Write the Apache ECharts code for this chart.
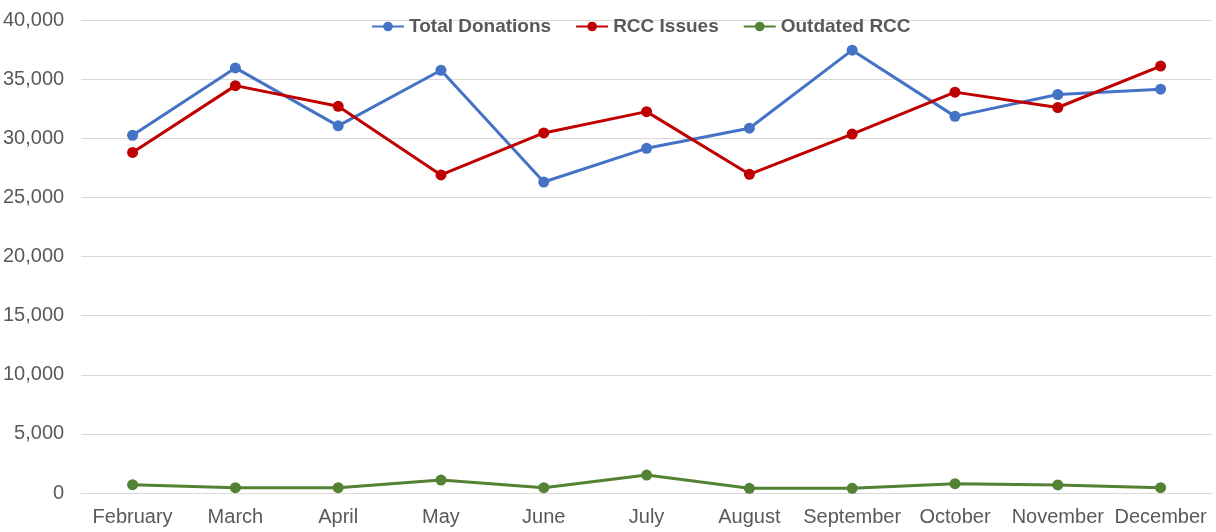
<!DOCTYPE html>
<html>
<head>
<meta charset="utf-8">
<script src="https://cdn.jsdelivr.net/npm/echarts@6/dist/echarts.min.js"></script>
<style>
  html, body { margin: 0; padding: 0; background: #fff; }
  #chart { width: 1216px; height: 532px; }
</style>
</head>
<body>
<div id="chart"></div>
<script>
const months = ['February', 'March', 'April', 'May', 'June', 'July', 'August', 'September', 'October', 'November', 'December']
const totalDonations = [30250, 35950, 31050, 35750, 26300, 29150, 30850, 37450, 31850, 33700, 34150]
const rccIssues = [28800, 34450, 32700, 26900, 30450, 32250, 26950, 30350, 33900, 32600, 36100]
const outdatedRcc = [700, 450, 450, 1100, 450, 1520, 400, 400, 790, 680, 450]

const font = '"Liberation Sans", Arial, sans-serif'
const textColor = '#595959'

function lineSeries(name, data, color) {
  return {
    name: name,
    type: 'line',
    data: data,
    symbol: 'circle',
    symbolSize: 11,
    lineStyle: { width: 3, color: color },
    itemStyle: { color: color },
    emphasis: { disabled: true }
  }
}

const chart = echarts.init(document.getElementById('chart'))
chart.setOption({
  animation: false,
  textStyle: { fontFamily: font },
  legend: {
    top: 12,
    left: 366,
    itemGap: 24,
    itemWidth: 32,
    itemHeight: 12,
    textStyle: { color: textColor, fontSize: 19, fontWeight: 'bold', fontFamily: font }
  },
  grid: {
    left: 80,
    right: 4,
    top: 20,
    bottom: 39
  },
  xAxis: {
    type: 'category',
    data: months,
    axisTick: { show: false },
    axisLine: { lineStyle: { color: '#d9d9d9', width: 1 } },
    axisLabel: { color: textColor, fontSize: 20, margin: 14, interval: 0, fontFamily: font }
  },
  yAxis: {
    type: 'value',
    min: 0,
    max: 40000,
    interval: 5000,
    axisLine: { show: false },
    axisTick: { show: false },
    splitLine: { lineStyle: { color: '#d9d9d9', width: 1 } },
    axisLabel: {
      color: textColor,
      fontSize: 20,
      margin: 17,
      fontFamily: font,
      formatter: v => v.toLocaleString('en-US')
    }
  },
  series: [
    lineSeries('Total Donations', totalDonations, '#4472C4'),
    lineSeries('RCC Issues', rccIssues, '#C00000'),
    lineSeries('Outdated RCC', outdatedRcc, '#548235')
  ]
})
window.addEventListener('resize', chart.resize)
</script>
</body>
</html>
